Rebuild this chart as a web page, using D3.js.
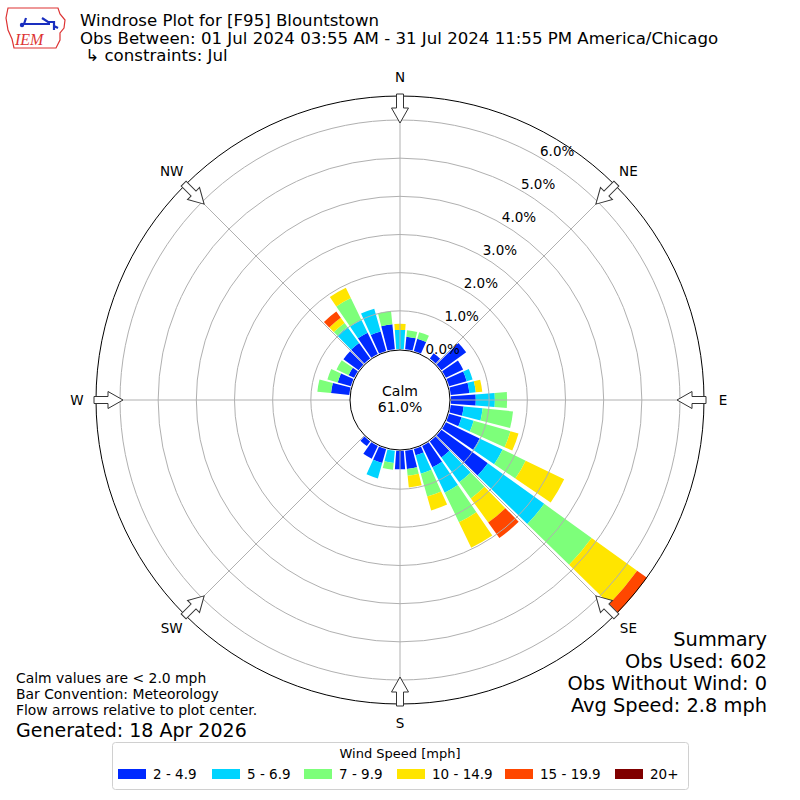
<!DOCTYPE html>
<html>
<head>
<meta charset="utf-8">
<script src="https://cdn.jsdelivr.net/npm/d3@7"></script>
<style>
  body { margin: 0; background: #fff; }
  svg text { font-family: "DejaVu Sans", sans-serif; fill: #000; }
</style>
</head>
<body>
<div id="chart"></div>
<script>
// wind direction bins (degrees, meteorological)
var directions = d3.range(0, 360, 10);

// speed bins and colors
var speedLabels = ["2 - 4.9", "5 - 6.9", "7 - 9.9", "10 - 14.9", "15 - 19.9", "20+"];
var speedColors = ["#0029ff", "#00d4ff", "#7dff7a", "#ffe500", "#ff4700", "#800000"];

// frequency (%) per direction bin for each speed class
var spd2 = [0, 0.33, 0.33, 0, 0.17, 0.80, 0.50, 0.48, 0.49, 0.65, 0.34, 0.34,
    0.98, 1.50, 0.52, 0.62, 0.17, 0.48, 0.48, 0, 0.38, 0.37, 0.15, 0,
    0, 0, 0, 0, 0.48, 0.36, 0.16, 0.49, 0.50, 0.62, 0.53, 0.66];
var spd5 = [0.50, 0, 0, 0, 0, 0, 0, 0.16, 0.17, 0.50, 0.50, 0.33,
    0.67, 1.82, 0.80, 0.74, 0.50, 0, 0, 0.32, 0.42, 0, 0, 0,
    0, 0, 0, 0, 0, 0, 0, 0, 0.52, 0.37, 0.62, 0];
var spd7 = [0, 0.17, 0.18, 0, 0, 0, 0, 0, 0, 0.32, 0.80, 1.00,
    0.67, 1.53, 0.52, 0.86, 0.62, 0.18, 0, 0.18, 0, 0, 0, 0,
    0, 0, 0, 0, 0.36, 0.28, 0.35, 0, 0.13, 0.64, 0, 0.35];
var spd10 = [0.16, 0, 0, 0, 0, 0, 0, 0, 0.17, 0, 0, 0.22,
    1.12, 1.47, 0.78, 0.74, 0.38, 0.31, 0, 0, 0, 0, 0, 0,
    0, 0, 0, 0, 0, 0, 0, 0, 0.17, 0.30, 0, 0];
var spd15 = [0, 0, 0, 0, 0, 0, 0, 0, 0, 0, 0, 0,
    0, 0.32, 0.50, 0, 0, 0, 0, 0, 0, 0, 0, 0,
    0, 0, 0, 0, 0, 0, 0, 0, 0.20, 0, 0, 0];
var spd20 = directions.map(function () { return 0; });

var rTicks = [0, 1, 2, 3, 4, 5, 6];
var compass = ["N", "NE", "E", "SE", "S", "SW", "W", "NW"];

var titleLines = ["Windrose Plot for [F95] Blountstown",
    "Obs Between: 01 Jul 2024 03:55 AM - 31 Jul 2024 11:55 PM America/Chicago",
    " \u21b3 constraints: Jul"];
var summaryLines = ["Summary", "Obs Used: 602", "Obs Without Wind: 0", "Avg Speed: 2.8 mph"];
var noteLines = ["Calm values are < 2.0 mph", "Bar Convention: Meteorology",
    "Flow arrows relative to plot center."];
var calmPct = "61.0%";

// plot settings
var cfg = {
    w: 800, h: 800,
    cx: 400, cy: 400,
    r0: 51, // radius of 0%
    rOuter: 304, // outer frame
    barWidth: 8.5, // degrees
    grid: "#b0b0b0"
};

var svg = d3.select("#chart").append("svg")
        .attr("width", cfg.w).attr("height", cfg.h);

// radial scale, percent -> px
var rscale = d3.scaleLinear().domain([0, 6]).range([cfg.r0, 280]);

var plot = svg.append("g")
        .attr("transform", "translate(" + cfg.cx + "," + cfg.cy + ")");

// stack series per direction
var series = [spd2, spd5, spd7, spd10, spd15, spd20];
var rows = directions.map(function (d, i) {
    var o = {dir: d};
    series.forEach(function (s, k) { o["s" + k] = s[i]; });
    return o;
});
var stacked = d3.stack().keys(series.map(function (s, k) { return "s" + k; }))(rows);

var arc = d3.arc();
var half = cfg.barWidth / 2 * Math.PI / 180;

stacked.forEach(function (layer, k) {
    plot.append("g").selectAll("path").data(layer.filter(function (d) {
        return d[1] - d[0] > 0;
    })).enter().append("path")
            .attr("fill", speedColors[k])
            .attr("d", function (d) {
                var a = d.data.dir * Math.PI / 180;
                return arc({innerRadius: rscale(d[0]), outerRadius: rscale(d[1]),
                    startAngle: a - half, endAngle: a + half});
            });
});

// grid rings
plot.append("g").selectAll("circle").data(rTicks.slice(1)).enter().append("circle")
        .attr("r", function (d) { return rscale(d); })
        .attr("fill", "none").attr("stroke", cfg.grid).attr("stroke-width", 1);

// radial spokes
plot.append("g").selectAll("line").data(d3.range(0, 360, 45)).enter().append("line")
        .attr("x1", 0).attr("y1", 0)
        .attr("x2", function (d) { return cfg.rOuter * Math.sin(d * Math.PI / 180); })
        .attr("y2", function (d) { return -cfg.rOuter * Math.cos(d * Math.PI / 180); })
        .attr("stroke", cfg.grid).attr("stroke-width", 1);

// outer frame
plot.append("circle").attr("r", cfg.rOuter)
        .attr("fill", "none").attr("stroke", "#000").attr("stroke-width", 1);

// calm circle
plot.append("circle").attr("r", cfg.r0 - 1)
        .attr("fill", "#fff").attr("stroke", "#000").attr("stroke-width", 1);
plot.append("text").text("Calm").attr("text-anchor", "middle")
        .attr("y", -4).attr("font-size", "14px");
plot.append("text").text(calmPct).attr("text-anchor", "middle")
        .attr("y", 12).attr("font-size", "14px");

// ring labels along 30 degrees
var la = 30 * Math.PI / 180;
plot.append("g").selectAll("text").data(rTicks).enter().append("text")
        .text(function (d) { return d.toFixed(1) + "%"; })
        .attr("x", function (d) { return rscale(d) * Math.sin(la); })
        .attr("y", function (d) { return -rscale(d) * Math.cos(la) - 1.5; })
        .attr("font-size", "13.5px");

// flow arrows, pointing to the centre
var arrowPath = "M-3.5,-306L3.5,-306L3.5,-292L8.5,-292L0,-277L-8.5,-292L-3.5,-292Z";
plot.append("g").selectAll("path").data(d3.range(0, 360, 45)).enter().append("path")
        .attr("d", arrowPath)
        .attr("transform", function (d) { return "rotate(" + d + ")"; })
        .attr("fill", "#fff").attr("stroke", "#333").attr("stroke-width", 1);

// compass labels
plot.append("g").selectAll("text").data(compass).enter().append("text")
        .text(function (d) { return d; })
        .attr("x", function (d, i) { return 323 * Math.sin(i * 45 * Math.PI / 180); })
        .attr("y", function (d, i) { return -323 * Math.cos(i * 45 * Math.PI / 180); })
        .attr("dy", "0.35em").attr("text-anchor", "middle")
        .attr("font-size", "13.5px");

// title block
svg.append("g").selectAll("text").data(titleLines).enter().append("text")
        .text(function (d) { return d; })
        .attr("x", 80).attr("y", function (d, i) { return 26 + i * 17.5; })
        .attr("font-size", "16.6px").style("white-space", "pre");

// logo
var logo = svg.append("g").attr("transform", "translate(4,4)");
logo.append("path")
        .attr("d", "M4,4L54,4L56,10L61,16L60,24L56,29L56,36L52,44L10,44L8,35L4,26L2,14Z")
        .attr("fill", "#fff").attr("stroke", "#d33").attr("stroke-width", 1.2);
logo.append("path").attr("d", "M18,20L46,20M22,14L20,20M38,14L44,18L50,18L50,26M50,22L54,24")
        .attr("fill", "none").attr("stroke", "#1a2fbf").attr("stroke-width", 2.2);
logo.append("circle").attr("cx", 18).attr("cy", 21).attr("r", 2.2).attr("fill", "#1a2fbf");
logo.append("text").text("IEM").attr("x", 11).attr("y", 41)
        .attr("font-size", "16px").attr("font-style", "italic")
        .style("font-family", "'Liberation Serif', 'DejaVu Serif', serif")
        .style("fill", "#d33");

// summary
svg.append("g").selectAll("text").data(summaryLines).enter().append("text")
        .text(function (d) { return d; })
        .attr("x", 767).attr("y", function (d, i) { return 646 + i * 22; })
        .attr("text-anchor", "end").attr("font-size", "19.4px");

// notes
svg.append("g").selectAll("text").data(noteLines).enter().append("text")
        .text(function (d) { return d; })
        .attr("x", 16).attr("y", function (d, i) { return 683 + i * 16; })
        .attr("font-size", "13.9px");
svg.append("text").text("Generated: 18 Apr 2026")
        .attr("x", 16).attr("y", 737).attr("font-size", "19px");

// legend
var leg = svg.append("g");
leg.append("rect").attr("x", 112.5).attr("y", 742.5).attr("width", 576).attr("height", 47)
        .attr("rx", 3).attr("fill", "#fff").attr("stroke", "#d0d0d0");
leg.append("text").text("Wind Speed [mph]").attr("x", 400).attr("y", 758)
        .attr("text-anchor", "middle").attr("font-size", "13px");
var legX = [118, 212, 304, 397, 505, 615];
var items = leg.selectAll("g.item").data(speedLabels).enter().append("g")
        .attr("transform", function (d, i) { return "translate(" + legX[i] + ",769)"; });
items.append("rect").attr("width", 28).attr("height", 10)
        .attr("fill", function (d, i) { return speedColors[i]; });
items.append("text").text(function (d) { return d; })
        .attr("x", 35).attr("y", 10).attr("font-size", "13.5px");
</script>
</body>
</html>
